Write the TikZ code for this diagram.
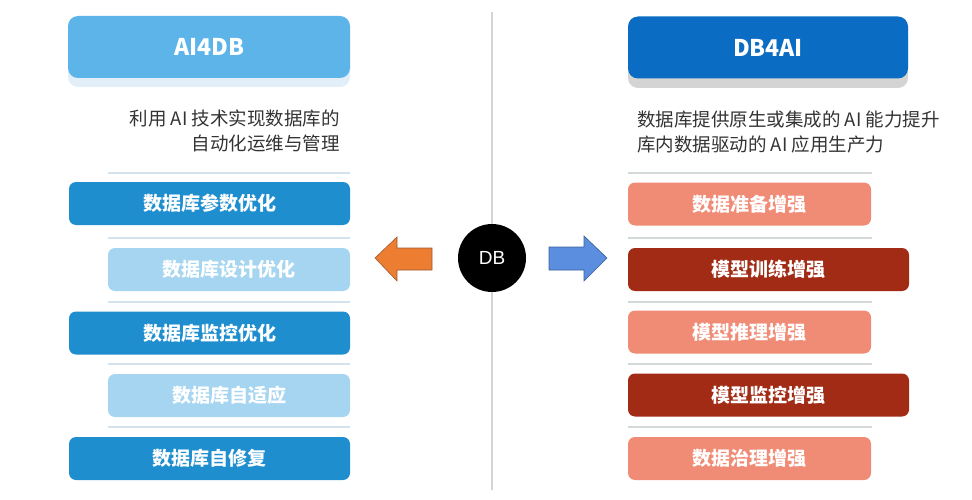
\documentclass[tikz,border=0pt]{standalone}
\usepackage{fontspec}
\setmainfont{Noto Sans CJK SC}
\newfontfamily\dbfont{Liberation Sans}
\usetikzlibrary{positioning}

\definecolor{hdrleft}{HTML}{5DB4E8}
\definecolor{hdrright}{HTML}{0A6DC3}
\definecolor{shadeleft}{HTML}{E2EEF8}
\definecolor{shaderight}{HTML}{D4D4D4}
\definecolor{bluedark}{HTML}{1F8ECF}
\definecolor{bluelight}{HTML}{A5D5F0}
\definecolor{salmon}{HTML}{F08B75}
\definecolor{reddark}{HTML}{A12B14}
\definecolor{sepleft}{HTML}{D3E2EC}
\definecolor{sepright}{HTML}{D3D9D8}
\definecolor{desctext}{HTML}{333333}
\definecolor{arrowleft}{HTML}{ED7D31}
\definecolor{arrowleftrim}{HTML}{9A5A32}
\definecolor{arrowright}{HTML}{5B8EDE}
\definecolor{arrowrightrim}{HTML}{3A5F9A}

\begin{document}
\begin{tikzpicture}[x=1pt, y=-1pt,
    header/.style={rectangle, rounded corners=10pt, minimum height=62pt, inner sep=0pt,
        text=white, font=\fontsize{23}{26}\selectfont\bfseries},
    shade/.style={rectangle, rounded corners=10pt, minimum height=62pt, inner sep=0pt},
    item/.style={rectangle, rounded corners=7pt, minimum height=43pt, inner sep=0pt,
        text=white, font=\fontsize{19}{22}\selectfont\bfseries},
    desc/.style={text=desctext, inner sep=0pt, font=\fontsize{18.5}{25}\selectfont}]
        \useasboundingbox (0,0) rectangle (972,500);

        % middle divider
        \draw[shaderight, line width=1.5pt] (492,12) -- (492,490);

        % headers
        \node[shade, fill=shadeleft, minimum width=282pt] (sl) at (209,56) {};
        \node[shade, fill=shaderight, minimum width=280pt] (sr) at (768,57) {};
        \node[header, fill=hdrleft, minimum width=282pt] (ai4db) at (209,47) {AI4DB};
        \node[header, fill=hdrright, minimum width=280pt] (db4ai) at (768,47.5) {DB4AI};

        \node[desc, align=right, anchor=east] (dl) at (340,130.5) {利用 AI 技术实现数据库的\\自动化运维与管理};
        \node[desc, align=left, anchor=west] (dr) at (637,132) {数据库提供原生或集成的 AI 能力提升\\库内数据驱动的 AI 应用生产力};

        % separators
        \foreach \y in {173,238,302,364,427} {
            \draw[sepleft, line width=2pt] (108,\y) -- (350,\y);
            \draw[sepright, line width=2pt] (628,\y) -- (872,\y);
        }

        % left column
        \node[item, fill=bluedark, minimum width=281pt] (l1) at (209.5,203.5) {数据库参数优化};
        \node[item, fill=bluelight, minimum width=242pt] (l2) at (229,269.5) {数据库设计优化};
        \node[item, fill=bluedark, minimum width=281pt] (l3) at (209.5,333) {数据库监控优化};
        \node[item, fill=bluelight, minimum width=242pt] (l4) at (229,395.5) {数据库自适应};
        \node[item, fill=bluedark, minimum width=281pt] (l5) at (209.5,458.5) {数据库自修复};

        % right column
        \node[item, fill=salmon, minimum width=243pt] (r1) at (749.5,204) {数据准备增强};
        \node[item, fill=reddark, minimum width=281pt] (r2) at (768.5,269.5) {模型训练增强};
        \node[item, fill=salmon, minimum width=243pt] (r3) at (749.5,332) {模型推理增强};
        \node[item, fill=reddark, minimum width=281pt] (r4) at (768.5,395) {模型监控增强};
        \node[item, fill=salmon, minimum width=243pt] (r5) at (749.5,458.5) {数据治理增强};

        % centre
        \node[circle, fill=black, minimum size=68pt, inner sep=0pt, text=white,
            font=\dbfont\fontsize{19}{22}\selectfont] (db) at (492,258) {DB};

        \draw[fill=arrowleft, draw=arrowleftrim, line width=0.6pt]
            (375,258) -- (397,237) -- (397,248) -- (432,248) -- (432,270) -- (397,270) -- (397,281) -- cycle;
        \draw[fill=arrowright, draw=arrowrightrim, line width=0.6pt]
            (607,258) -- (584,236) -- (584,247) -- (549,247) -- (549,270) -- (584,270) -- (584,281) -- cycle;
\end{tikzpicture}
\end{document}
